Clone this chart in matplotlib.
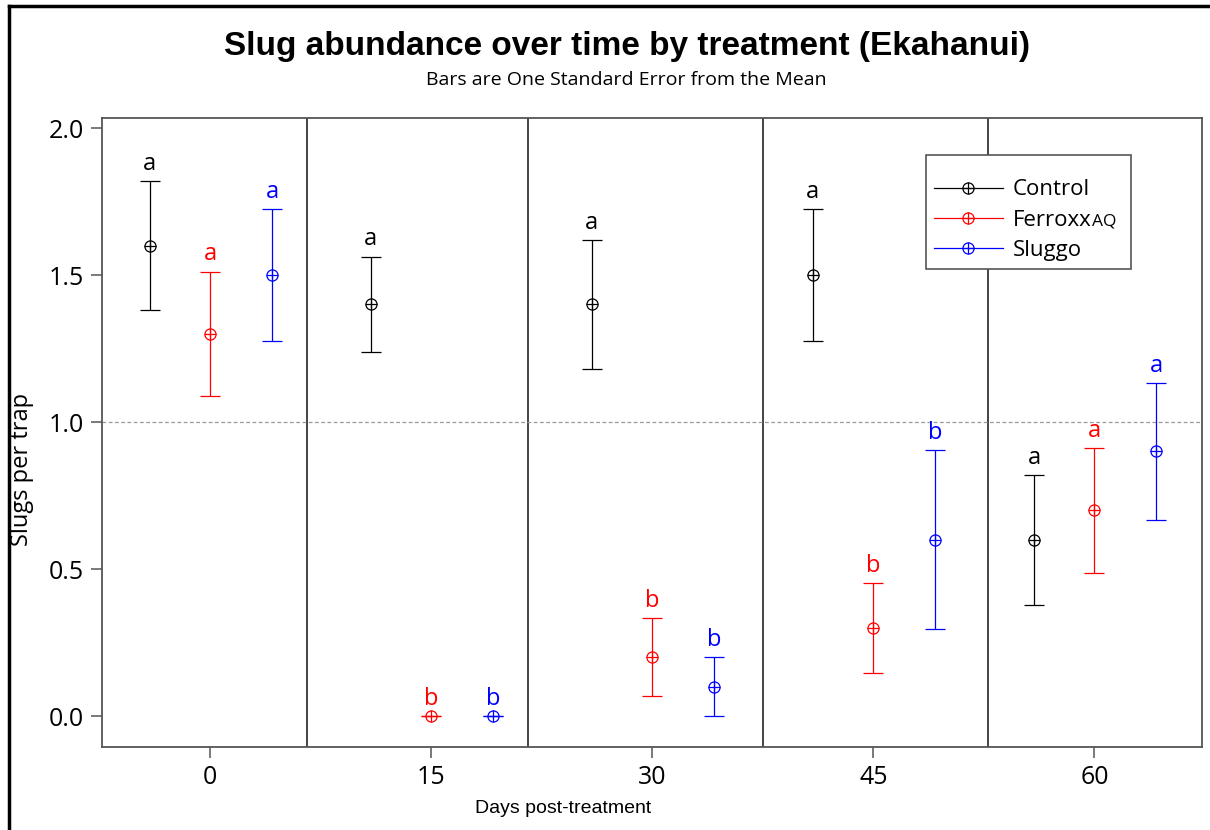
import matplotlib.pyplot as plt
from matplotlib.lines import Line2D
from matplotlib.patches import Rectangle

days = [0, 15, 30, 45, 60]
treatments = ['Control', 'Ferroxx', 'Sluggo']
colors = ['black', '#ff0000', '#0000ff']
offsets = [-4.1, 0.0, 4.2]

control_mean = [1.6, 1.4, 1.4, 1.5, 0.6]
control_se = [0.22, 0.163, 0.22, 0.224, 0.221]
ferroxx_mean = [1.3, 0.0, 0.2, 0.3, 0.7]
ferroxx_se = [0.212, 0.0, 0.132, 0.153, 0.212]
sluggo_mean = [1.5, 0.0, 0.1, 0.6, 0.9]
sluggo_se = [0.223, 0.0, 0.1, 0.304, 0.233]

control_letters = ['a', 'a', 'a', 'a', 'a']
ferroxx_letters = ['a', 'b', 'b', 'b', 'a']
sluggo_letters = ['a', 'b', 'b', 'b', 'a']

separators = [6.6, 21.6, 37.5, 52.8]

means = [control_mean, ferroxx_mean, sluggo_mean]
ses = [control_se, ferroxx_se, sluggo_se]
letters = [control_letters, ferroxx_letters, sluggo_letters]

fig = plt.figure(figsize=(12.1, 8.3), dpi=100)
ax = fig.add_axes([0.0843, 0.1, 0.9091, 0.7578])

for i in range(3):
    xs = [d + offsets[i] for d in days]
    ax.errorbar(xs, means[i], yerr=ses[i], fmt='none', ecolor=colors[i],
                elinewidth=0.9, capsize=7.5, capthick=0.9, zorder=3)
    ax.plot(xs, means[i], ls='none', marker='o', ms=8, mfc='none',
            mec=colors[i], mew=0.9, zorder=4)
    ax.plot(xs, means[i], ls='none', marker='+', ms=8, mec=colors[i],
            mew=0.9, zorder=4)
    for x, m, s, l in zip(xs, means[i], ses[i], letters[i]):
        ax.annotate(l, (x, m + s), xytext=(0, 8), textcoords='offset points',
                    ha='center', va='baseline', color=colors[i],
                    fontsize=17, family='Open Sans')

for s in separators:
    ax.axvline(s, color='#111111', lw=1.1, zorder=1)
ax.axhline(1.0, color='#999999', lw=0.9, ls=(0, (3, 2)), zorder=1)

ax.set_xlim(-7.33, 67.3)
ax.set_ylim(-0.105, 2.034)
ax.set_xticks(days)
ax.set_yticks([0.0, 0.5, 1.0, 1.5, 2.0])
ax.set_yticklabels(['0.0', '0.5', '1.0', '1.5', '2.0'])
for lab in ax.get_xticklabels() + ax.get_yticklabels():
    lab.set_family('Open Sans')
    lab.set_fontsize(18)
ax.tick_params(direction='out', length=8, width=1.1, color='#555555', pad=5)
for sp in ax.spines.values():
    sp.set_color('#555555')
    sp.set_linewidth(1.3)

ax.set_xlabel('Days post-treatment', family='Liberation Sans', fontsize=14)
ax.xaxis.set_label_coords(0.419, -0.084)
ax.set_ylabel('Slugs per trap', family='Open Sans', fontsize=17)
ax.yaxis.set_label_coords(-0.062, 0.442)

# legend box drawn separately so the padding matches
ax.add_patch(Rectangle((0.749, 0.760), 0.1865, 0.181, transform=ax.transAxes,
                       facecolor='white', edgecolor='#555555', lw=1.2,
                       zorder=4.5))

handles = []
for c in colors:
    ring = Line2D([], [], color=c, lw=0.9, marker='o', ms=8,
                  mfc='none', mec=c, mew=0.9)
    plus = Line2D([], [], ls='none', marker='+', ms=8, mec=c, mew=0.9)
    handles.append((ring, plus))
leg = ax.legend(handles, ['Control', 'Ferroxx', 'Sluggo'], loc='upper left',
                bbox_to_anchor=(0.7564, 0.9025), borderaxespad=0, frameon=False,
                handlelength=3.1, prop={'family': 'Open Sans', 'size': 16},
                labelspacing=0.42, borderpad=0, handletextpad=0.45)
leg.set_zorder(5)

fig.canvas.draw()
t = leg.get_texts()[1]
bb = t.get_window_extent()
base = t.get_transform().transform(t.get_position())[1]
fig.text(bb.x1 / fig.bbox.width, base / fig.bbox.height, 'AQ',
         family='Open Sans', fontsize=12.5, ha='left', va='baseline', zorder=6)

fig.text(0.518, 0.944, 'Slug abundance over time by treatment (Ekahanui)',
         ha='center', va='center', fontsize=24, fontweight='bold',
         family='Liberation Sans')
fig.text(0.518, 0.904, 'Bars are One Standard Error from the Mean',
         ha='center', va='center', fontsize=14, family='Open Sans')

# outer frame (left and top edges)
fig.add_artist(Line2D([0.0075, 0.0075], [0, 0.993], color='black', lw=2.5,
                      transform=fig.transFigure))
fig.add_artist(Line2D([0.0075, 1.0], [0.993, 0.993], color='black', lw=2.5,
                      transform=fig.transFigure))

fig.savefig('out.png', dpi=100)
